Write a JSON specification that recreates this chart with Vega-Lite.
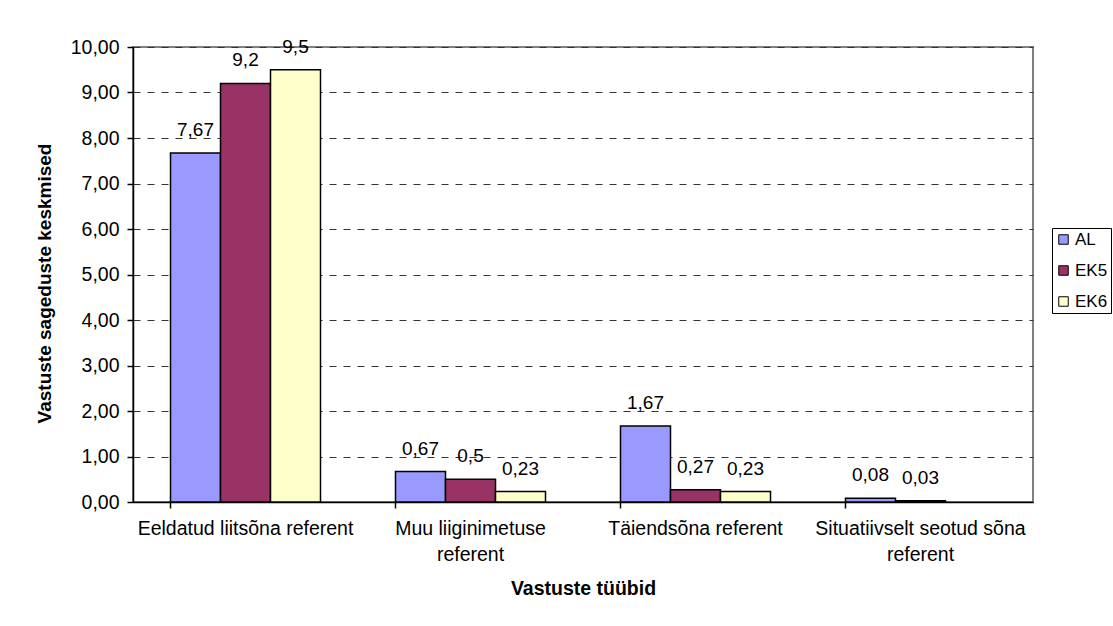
{
  "$schema": "https://vega.github.io/schema/vega-lite/v6.json",
  "width": 900,
  "height": 455,
  "autosize": {"type": "none"},
  "padding": {"left": 133, "top": 47, "right": 80, "bottom": 124},
  "background": "white",
  "config": {
    "locale": {"number": {"decimal": ",", "thousands": " ", "grouping": [3], "currency": ["", " €"]}},
    "font": "Liberation Sans",
    "view": {"stroke": "#808080", "strokeWidth": 2}
  },
  "data": {
    "values": [
      {"tyyp": "Eeldatud liitsõna referent", "grupp": "AL", "vaartus": 7.67},
      {"tyyp": "Eeldatud liitsõna referent", "grupp": "EK5", "vaartus": 9.2},
      {"tyyp": "Eeldatud liitsõna referent", "grupp": "EK6", "vaartus": 9.5},
      {"tyyp": "Muu liiginimetuse referent", "grupp": "AL", "vaartus": 0.67},
      {"tyyp": "Muu liiginimetuse referent", "grupp": "EK5", "vaartus": 0.5},
      {"tyyp": "Muu liiginimetuse referent", "grupp": "EK6", "vaartus": 0.23},
      {"tyyp": "Täiendsõna referent", "grupp": "AL", "vaartus": 1.67},
      {"tyyp": "Täiendsõna referent", "grupp": "EK5", "vaartus": 0.27},
      {"tyyp": "Täiendsõna referent", "grupp": "EK6", "vaartus": 0.23},
      {"tyyp": "Situatiivselt seotud sõna referent", "grupp": "AL", "vaartus": 0.08},
      {"tyyp": "Situatiivselt seotud sõna referent", "grupp": "EK5", "vaartus": 0.03}
    ]
  },
  "encoding": {
    "x": {
      "field": "tyyp",
      "type": "nominal",
      "sort": null,
      "scale": {"paddingInner": 0.3333, "paddingOuter": 0.16667},
      "axis": {
        "bandPosition": 0,
        "labelAngle": 0,
        "labelFontSize": 19.5,
        "labelColor": "black",
        "labelPadding": 11,
        "labelLineHeight": 26,
        "labelLimit": 320,
        "labelExpr": "datum.label == 'Muu liiginimetuse referent' ? ['Muu liiginimetuse', 'referent'] : datum.label == 'Situatiivselt seotud sõna referent' ? ['Situatiivselt seotud sõna', 'referent'] : datum.label",
        "tickSize": 6,
        "tickColor": "black",
        "tickWidth": 1.5,
        "domainColor": "black",
        "domainWidth": 1.5,
        "grid": false,
        "title": "Vastuste tüübid",
        "titleFontSize": 19.5,
        "titleFontWeight": "bold",
        "titleColor": "black",
        "titlePadding": 16
      }
    },
    "xOffset": {
      "field": "grupp",
      "type": "nominal",
      "sort": ["AL", "EK5", "EK6"],
      "scale": {"paddingInner": 0, "paddingOuter": 0}
    },
    "y": {
      "field": "vaartus",
      "type": "quantitative",
      "scale": {"domain": [0, 10], "nice": false},
      "axis": {
        "values": [0, 1, 2, 3, 4, 5, 6, 7, 8, 9, 10],
        "format": ".2f",
        "labelFontSize": 19.5,
        "labelColor": "black",
        "labelPadding": 8,
        "tickSize": 6,
        "tickColor": "black",
        "tickWidth": 1.5,
        "domainColor": "black",
        "domainWidth": 1.5,
        "grid": true,
        "gridColor": "#333333",
        "gridDash": [7, 7],
        "gridWidth": 1,
        "title": "Vastuste sageduste keskmised",
        "titleFontSize": 19,
        "titleFontWeight": "bold",
        "titleColor": "black",
        "titlePadding": 16,
        "titleY": 236
      }
    }
  },
  "layer": [
    {
      "mark": {"type": "bar", "stroke": "black", "strokeWidth": 1.5},
      "encoding": {
        "color": {
          "field": "grupp",
          "type": "nominal",
          "scale": {"domain": ["AL", "EK5", "EK6"], "range": ["#9999FF", "#993366", "#FFFFCC"]},
          "legend": {
            "title": null,
            "orient": "none",
            "legendX": 919,
            "legendY": 181,
            "strokeColor": "black",
            "fillColor": "white",
            "padding": 3,
            "symbolType": "square",
            "symbolSize": 90,
            "symbolStrokeColor": "black",
            "symbolStrokeWidth": 1,
            "labelFontSize": 17,
            "labelOffset": 3,
            "labelColor": "black",
            "rowPadding": 13
          }
        }
      }
    },
    {
      "mark": {"type": "text", "baseline": "alphabetic", "dy": -17, "fontSize": 19, "color": "black"},
      "encoding": {
        "text": {"field": "vaartus", "type": "quantitative", "format": ".3~g"}
      }
    }
  ]
}
